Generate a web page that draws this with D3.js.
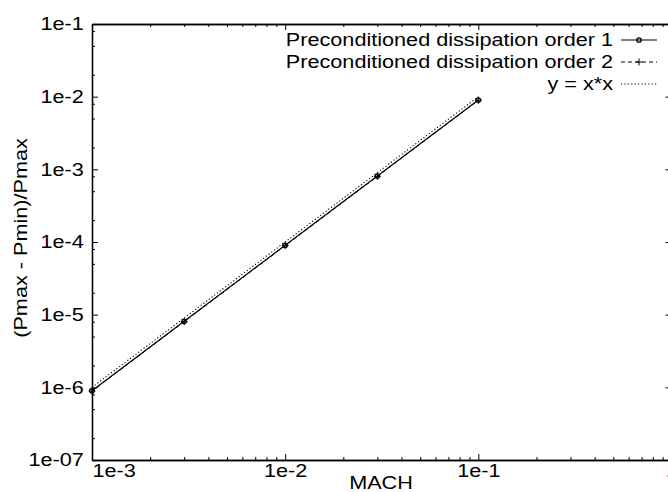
<!DOCTYPE html>
<html>
<head>
<meta charset="utf-8">
<script src="https://cdn.jsdelivr.net/npm/d3@7"></script>
<style>
body { margin: 0; background: #fff; }
text { font-family: "Liberation Sans", Arial, sans-serif; font-size: 18.5px; fill: #000; }
</style>
</head>
<body>
<svg id="chart" width="668" height="492"></svg>
<script>
var mach = [1e-3, 3e-3, 1e-2, 3e-2, 1e-1];
var order1 = [9.0e-7, 8.1e-6, 9.0e-5, 8.1e-4, 9.0e-3];
var order2 = [8.9e-7, 8.0e-6, 8.9e-5, 8.0e-4, 8.9e-3];
var square = [1e-6, 9e-6, 1e-4, 9e-4, 1e-2];

var xTicks = [1e-3, 1e-2, 1e-1, 1];
var xTickLabels = ["1e-3", "1e-2", "1e-1", "1"];
var yTicks = [1e-7, 1e-6, 1e-5, 1e-4, 1e-3, 1e-2, 1e-1];
var yTickLabels = ["1e-07", "1e-6", "1e-5", "1e-4", "1e-3", "1e-2", "1e-1"];
var legendLabels = ["Preconditioned dissipation order 1", "Preconditioned dissipation order 2", "y = x*x"];

var stretch = 'scale(1.17,1)';

var svg = d3.select('#chart');

var x = d3.scaleLog().domain([1e-3, 1]).range([92, 671.5]);
var y = d3.scaleLog().domain([1e-7, 1e-1]).range([460, 24]);

// minor tick positions inside each decade
function minors(majors, steps) {
    var out = [];
    majors.slice(0, -1).forEach(m => steps.forEach(s => out.push(m * s)));
    return out;
}
var xMinor = minors(xTicks, [2, 3, 4, 5, 6, 7, 8, 9]);
var yMinor = minors(yTicks, [2, 5, 8]);

function axisStyle(g) {
    g.selectAll('path, line').attr('stroke', '#000');
    g.select('.domain').attr('stroke-width', 1.3);
}

// bottom
svg.append('g')
    .attr('transform', 'translate(0,460)')
    .call(d3.axisBottom(x).tickValues(xTicks).tickFormat((d, i) => xTickLabels[i])
        .tickSizeInner(-6).tickSizeOuter(0).tickPadding(4))
    .call(axisStyle)
    .selectAll('text')
    .attr('transform', stretch)
    .attr('text-anchor', (d, i) => i == 0 ? 'start' : 'middle');

svg.append('g')
    .attr('transform', 'translate(0,460)')
    .call(d3.axisBottom(x).tickValues(xMinor).tickFormat('').tickSizeInner(-3).tickSizeOuter(0))
    .call(axisStyle);

// top (mirror)
svg.append('g')
    .attr('transform', 'translate(0,24)')
    .call(d3.axisTop(x).tickValues(xTicks).tickFormat('').tickSizeInner(-6).tickSizeOuter(0))
    .call(axisStyle);

svg.append('g')
    .attr('transform', 'translate(0,24)')
    .call(d3.axisTop(x).tickValues(xMinor).tickFormat('').tickSizeInner(-3).tickSizeOuter(0))
    .call(axisStyle);

// left
svg.append('g')
    .attr('transform', 'translate(92,0)')
    .call(d3.axisLeft(y).tickValues(yTicks).tickFormat((d, i) => yTickLabels[i])
        .tickSizeInner(-6).tickSizeOuter(0).tickPadding(7))
    .call(axisStyle)
    .selectAll('text')
    .attr('transform', stretch);

svg.append('g')
    .attr('transform', 'translate(92,0)')
    .call(d3.axisLeft(y).tickValues(yMinor).tickFormat('').tickSizeInner(-3).tickSizeOuter(0))
    .call(axisStyle);

// right (mirror)
svg.append('g')
    .attr('transform', 'translate(671.5,0)')
    .call(d3.axisRight(y).tickValues(yTicks).tickFormat('').tickSizeInner(-6).tickSizeOuter(0))
    .call(axisStyle);

svg.append('g')
    .attr('transform', 'translate(671.5,0)')
    .call(d3.axisRight(y).tickValues(yMinor).tickFormat('').tickSizeInner(-3).tickSizeOuter(0))
    .call(axisStyle);

// axis titles
svg.append('text')
    .attr('transform', 'translate(381,489) ' + stretch)
    .attr('text-anchor', 'middle')
    .text('MACH');

svg.append('text')
    .attr('transform', 'translate(27,238) rotate(-90) ' + stretch)
    .attr('text-anchor', 'middle')
    .text('(Pmax - Pmin)/Pmax');

// series
var line = d3.line().x(d => x(d[0])).y(d => y(d[1]));

var series = [
    { values: order1, dash: null, width: 1.2, marker: 'circle' },
    { values: order2, dash: '4,3', width: 1, marker: 'plus' },
    { values: square, dash: '1.2,2.2', width: 1.1, marker: null }
];

function drawMarker(g, kind, cx, cy) {
    if (kind == 'circle') {
        g.append('circle')
            .attr('cx', cx).attr('cy', cy).attr('r', 2.2)
            .attr('fill', 'none').attr('stroke', '#000').attr('stroke-width', 1.3);
    } else if (kind == 'plus') {
        g.append('path')
            .attr('d', `M${cx - 3.5},${cy}H${cx + 3.5}M${cx},${cy - 3.5}V${cy + 3.5}`)
            .attr('stroke', '#000').attr('stroke-width', 1);
    }
}

var plot = svg.append('g');

series.forEach(s => {
    var pts = d3.zip(mach, s.values);
    plot.append('path')
        .attr('d', line(pts))
        .attr('fill', 'none')
        .attr('stroke', '#000')
        .attr('stroke-width', s.width)
        .attr('stroke-dasharray', s.dash);
    pts.forEach(p => drawMarker(plot, s.marker, x(p[0]), y(p[1])));
});

// legend
var legend = svg.append('g');

series.forEach((s, i) => {
    var ly = 40 + i * 22;
    legend.append('text')
        .attr('transform', `translate(613,${ly}) ` + stretch)
        .attr('dy', '0.35em')
        .attr('text-anchor', 'end')
        .text(legendLabels[i]);
    legend.append('line')
        .attr('x1', 621).attr('x2', 657)
        .attr('y1', ly).attr('y2', ly)
        .attr('stroke', '#000')
        .attr('stroke-width', s.width)
        .attr('stroke-dasharray', s.dash);
    drawMarker(legend, s.marker, 639, ly);
});
</script>
</body>
</html>
